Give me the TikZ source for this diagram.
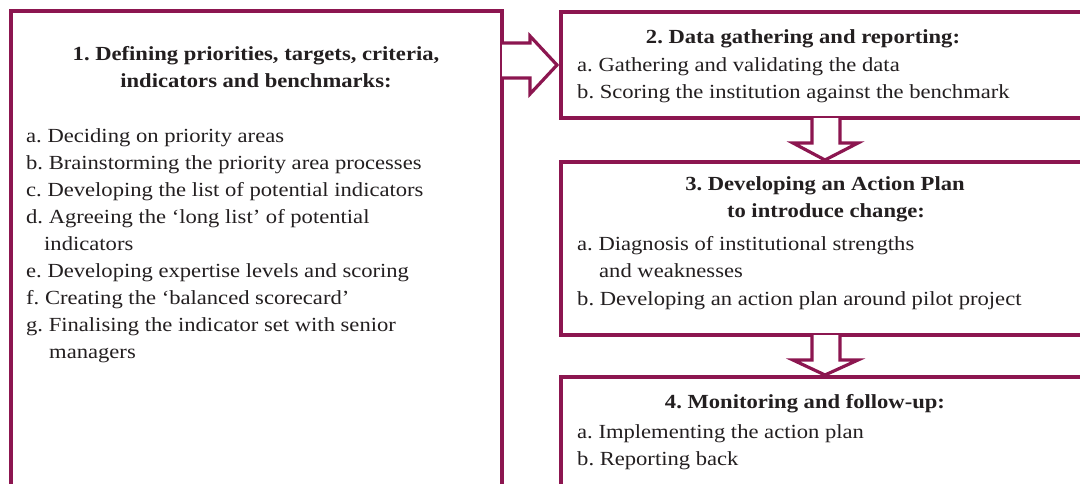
\documentclass[tikz,border=0pt]{standalone}
\usepackage{fontspec}
\setmainfont[FakeStretch=1.13]{Liberation Serif}
\usetikzlibrary{calc}
\definecolor{maroon}{RGB}{140,22,80}
\definecolor{txt}{RGB}{35,31,32}
\tikzset{
  box/.style={draw=maroon, line width=3.4pt, rectangle, inner sep=0pt, outer sep=0pt, anchor=north west},
  blockarrow/.style={draw=maroon, line width=3.2pt, fill=white, line join=miter},
  head/.style={font=\fontsize{20}{27}\selectfont\bfseries\frenchspacing, text=txt, inner sep=0pt, anchor=base},
  item/.style={font=\fontsize{20}{27}\selectfont\frenchspacing, text=txt, inner sep=0pt, anchor=base west},
}
\begin{document}
\begin{tikzpicture}[x=1pt,y=-1pt]
\useasboundingbox (0,0) rectangle (1080,483);
\clip (0,0) rectangle (1080,483);
\fill[white] (0,0) rectangle (1080,483);
% boxes
\node[box, minimum width=491pt, minimum height=520pt] (b1) at (11,11) {};
\node[box, minimum width=560pt, minimum height=106pt] (b2) at (561,12) {};
\node[box, minimum width=560pt, minimum height=173pt] (b3) at (561,162) {};
\node[box, minimum width=560pt, minimum height=160pt] (b4) at (561,377) {};
% arrows
\draw[blockarrow] ($(b1.north east)+(0,32)$) -- ++(28,0) -- ++(0,-7) -- ($(b2.north west)+(-4,53)$) -- ($(b1.north east)+(28,83)$) -- ++(0,-16) -- ++(-28,0);
\draw[blockarrow] ($(b2.south west)+(251,0)$) -- ++(0,25) -- ++(-19,0) -- ($(b3.north west)+(264,-2)$) -- ($(b2.south west)+(297,25)$) -- ++(-18,0) -- ++(0,-25);
\draw[blockarrow] ($(b3.south west)+(251,0)$) -- ++(0,25) -- ++(-19,0) -- ($(b4.north west)+(264,-2)$) -- ($(b3.south west)+(297,25)$) -- ++(-18,0) -- ++(0,-25);
% box 1 text
\node[head] (h1a) at (256,60) {1. Defining priorities, targets, criteria,};
\node[head] (h1b) at (256,87) {indicators and benchmarks:};
\node[item] (i1a) at (26,142) {a. Deciding on priority areas};
\node[item] (i1b) at (26,169) {b. Brainstorming the priority area processes};
\node[item] (i1c) at (26,196) {c. Developing the list of potential indicators};
\node[item] (i1d) at (26,223) {d. Agreeing the ‘long list’ of potential};
\node[item] (i1d2) at (44,250) {indicators};
\node[item] (i1e) at (26,277) {e. Developing expertise levels and scoring};
\node[item] (i1f) at (26,304) {f. Creating the ‘balanced scorecard’};
\node[item] (i1g) at (26,331) {g. Finalising the indicator set with senior};
\node[item] (i1g2) at (49,358) {managers};
% box 2 text
\node[head] (h2) at (803,43) {2. Data gathering and reporting:};
\node[item] (i2a) at (577,71) {a. Gathering and validating the data};
\node[item] (i2b) at (577,98) {b. Scoring the institution against the benchmark};
% box 3 text
\node[head] (h3a) at (825,190) {3. Developing an Action Plan};
\node[head] (h3b) at (826,217) {to introduce change:};
\node[item] (i3a) at (577,250) {a. Diagnosis of institutional strengths};
\node[item] (i3a2) at (599,277) {and weaknesses};
\node[item] (i3b) at (577,305) {b. Developing an action plan around pilot project};
% box 4 text
\node[head] (h4) at (805,408) {4. Monitoring and follow-up:};
\node[item] (i4a) at (577,438) {a. Implementing the action plan};
\node[item] (i4b) at (577,465) {b. Reporting back};
\end{tikzpicture}
\end{document}
